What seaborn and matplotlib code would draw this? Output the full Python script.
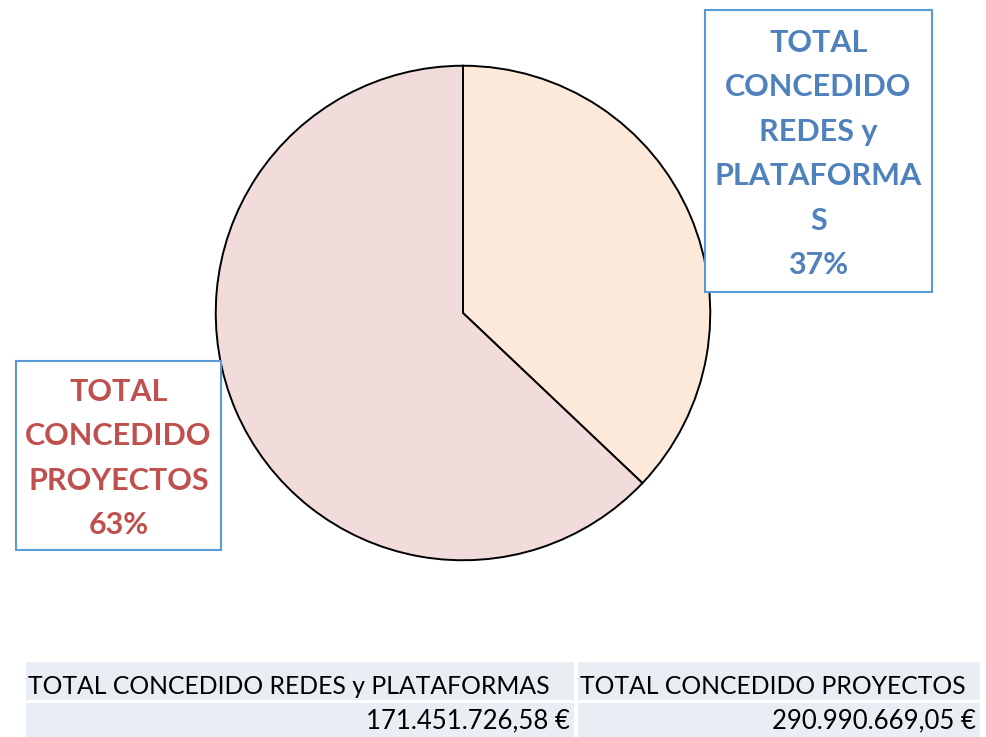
import matplotlib.pyplot as plt
import seaborn as sns
from matplotlib.patches import Rectangle

# datos
categorias = ["TOTAL CONCEDIDO REDES y PLATAFORMAS", "TOTAL CONCEDIDO PROYECTOS"]
importes = [171451726.58, 290990669.05]
importes_txt = ["171.451.726,58 €", "290.990.669,05 €"]
etiquetas = ["TOTAL\nCONCEDIDO\nREDES y\nPLATAFORMA\nS\n37%", "TOTAL\nCONCEDIDO\nPROYECTOS\n63%"]

colores = ["#FDE9D9", "#F2DCDB"]
colores_txt = ["#4F81BD", "#C0504D"]

sns.set_theme(style="white")
plt.rcParams["font.family"] = ["Lato", "DejaVu Sans"]

W, H = 986, 737
fig = plt.figure(figsize=(W / 100, H / 100), dpi=100)

# tarta
ax = fig.add_axes([215 / W, (H - 561) / H, 496 / W, 496 / H])
ax.pie(importes, colors=colores, startangle=90, counterclock=False,
       wedgeprops=dict(edgecolor="black", linewidth=1.4))
ax.set_xlim(-1.003, 1.003)
ax.set_ylim(-1.003, 1.003)
ax.set_aspect("equal")

# capa en pixeles para cajas y tabla
ov = fig.add_axes([0, 0, 1, 1], facecolor="none")
ov.set_xlim(0, W)
ov.set_ylim(H, 0)
ov.axis("off")

cajas = [(705, 10, 227, 282), (16, 361, 205, 189)]
for (x, y, w, h), txt, c in zip(cajas, etiquetas, colores_txt):
    ov.add_patch(Rectangle((x, y), w, h, facecolor="white", edgecolor="#5B9BD5", linewidth=1.5))
    ov.text(x + w / 2, y + h / 2 + 3, txt, ha="center", va="center", color=c,
            fontsize=22, fontweight="bold", linespacing=1.72)

# tabla inferior
celdas_x = [(26, 548), (578, 402)]
for i, (x, w) in enumerate(celdas_x):
    ov.add_patch(Rectangle((x, 662), w, 38, facecolor="#E9EDF4", edgecolor="none"))
    ov.add_patch(Rectangle((x, 703), w, 34, facecolor="#E9EDF4", edgecolor="none"))
    ov.text(x + 2, 686, categorias[i], ha="left", va="center", fontsize=17.8, color="black")
    ov.text(x + w - 4, 721, importes_txt[i], ha="right", va="center", fontsize=18.5, color="black")

fig.savefig("out.png", dpi=100)
